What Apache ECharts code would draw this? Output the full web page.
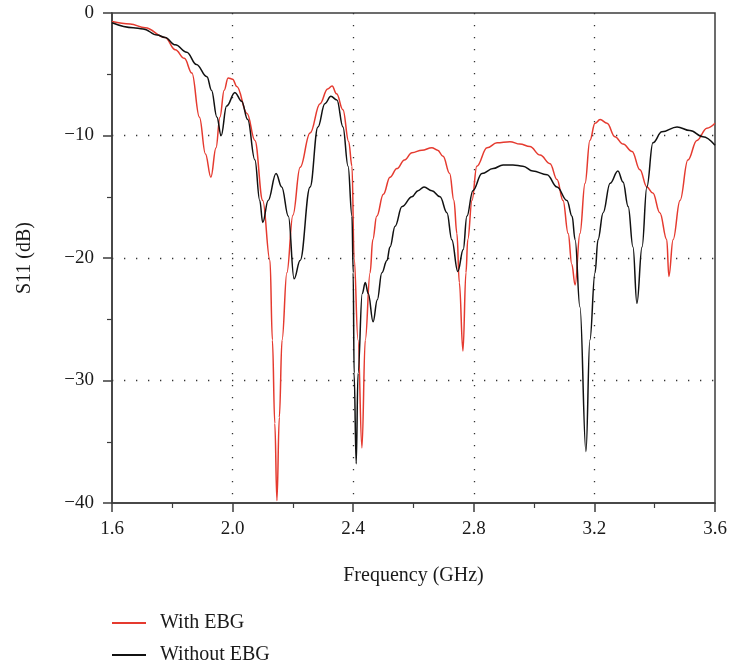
<!DOCTYPE html>
<html>
<head>
<meta charset="utf-8">
<script src="https://cdn.jsdelivr.net/npm/echarts@6/dist/echarts.min.js"></script>
<style>html,body{margin:0;padding:0;background:#fff;}#c{width:730px;height:661px;}</style>
</head>
<body>
<div id="c"></div>
<script>
// Frequency (GHz) and S11 (dB)
const withFreq = [1.600,1.660,1.710,1.776,1.810,1.840,1.865,1.890,1.910,1.928,1.945,1.958,1.972,1.985,2.000,2.014,2.048,2.074,2.100,2.124,2.132,2.140,2.147,2.155,2.164,2.180,2.200,2.224,2.257,2.290,2.315,2.330,2.345,2.366,2.385,2.396,2.403,2.416,2.429,2.440,2.456,2.465,2.478,2.500,2.522,2.545,2.570,2.595,2.628,2.661,2.680,2.698,2.720,2.734,2.744,2.752,2.764,2.774,2.780,2.794,2.810,2.844,2.877,2.920,2.953,2.986,3.020,3.053,3.076,3.096,3.113,3.125,3.136,3.152,3.169,3.185,3.202,3.219,3.242,3.268,3.295,3.325,3.351,3.374,3.394,3.417,3.440,3.447,3.461,3.484,3.510,3.540,3.573,3.600];
const withS11 = [-0.7,-0.9,-1.2,-2.0,-3.0,-3.7,-4.9,-8.5,-11.5,-13.4,-11.0,-8.5,-6.3,-5.3,-5.4,-6.0,-8.2,-10.4,-15.3,-20.2,-26.7,-33.5,-39.8,-33.0,-26.7,-21.2,-16.5,-12.6,-9.8,-7.4,-6.2,-5.96,-6.6,-7.9,-10.5,-12.5,-20.0,-26.7,-35.5,-26.7,-21.2,-18.5,-16.6,-14.8,-13.4,-12.7,-12.0,-11.4,-11.2,-11.0,-11.2,-11.7,-13.1,-15.3,-18.0,-22.0,-27.6,-21.2,-18.5,-15.3,-12.5,-11.0,-10.6,-10.5,-10.7,-10.9,-11.6,-12.3,-13.6,-15.3,-18.0,-20.5,-22.2,-18.0,-13.9,-10.4,-9.0,-8.7,-9.0,-10.1,-10.7,-11.3,-12.8,-14.2,-14.7,-16.3,-18.5,-21.5,-18.5,-15.3,-12.0,-10.4,-9.4,-9.0];

const withoutFreq = [1.600,1.670,1.703,1.750,1.776,1.810,1.848,1.880,1.915,1.930,1.948,1.962,1.980,2.008,2.030,2.050,2.074,2.090,2.100,2.118,2.144,2.163,2.185,2.204,2.224,2.257,2.283,2.306,2.326,2.346,2.366,2.383,2.396,2.400,2.403,2.410,2.416,2.430,2.440,2.450,2.466,2.480,2.495,2.512,2.522,2.539,2.562,2.595,2.615,2.635,2.661,2.688,2.711,2.727,2.747,2.765,2.777,2.797,2.827,2.864,2.897,2.930,2.963,2.996,3.043,3.076,3.109,3.126,3.136,3.152,3.172,3.185,3.202,3.212,3.229,3.252,3.278,3.295,3.312,3.328,3.341,3.358,3.374,3.394,3.424,3.474,3.517,3.560,3.600];
const withoutS11 = [-0.8,-1.2,-1.3,-1.8,-2.0,-2.6,-3.2,-4.2,-5.2,-6.3,-8.5,-10.0,-7.6,-6.5,-7.2,-8.7,-12.0,-15.3,-17.1,-15.3,-13.1,-14.2,-16.6,-21.7,-20.2,-14.2,-9.3,-7.4,-6.8,-7.1,-9.3,-12.5,-16.6,-21.2,-29.4,-36.8,-29.4,-22.9,-22.0,-22.9,-25.2,-23.4,-21.2,-20.2,-19.1,-17.4,-15.8,-15.0,-14.5,-14.2,-14.5,-15.0,-16.3,-18.5,-21.1,-19.3,-16.6,-14.5,-13.1,-12.7,-12.4,-12.4,-12.5,-12.9,-13.2,-14.2,-15.3,-16.6,-18.5,-24.0,-35.8,-26.7,-21.2,-18.5,-16.3,-13.9,-12.9,-13.8,-15.8,-19.1,-23.7,-19.1,-14.2,-10.6,-9.7,-9.3,-9.6,-10.1,-10.8];

const seriesNames = ['With EBG', 'Without EBG'];
const xTicks = [1.6, 2.0, 2.4, 2.8, 3.2, 3.6];
const yTicks = [0, -10, -20, -30, -40];

const zip = (a, b) => a.map((v, i) => [v, b[i]]);
const FONT = '"Liberation Serif", "DejaVu Serif", serif';
const AX = '#3c3c3c';
const RED = '#e53a2f';
const BLK = '#111';

const dotted = {show: true, showMinLine: false, showMaxLine: false, lineStyle: {color: '#333', width: 1.3, type: [1.3, 10.7]}};

const chart = echarts.init(document.getElementById('c'), null, {renderer: 'canvas'});
chart.setOption({
  animation: false,
  backgroundColor: '#fff',
  grid: {left: 112, top: 13, right: 15, bottom: 158, show: true, borderColor: AX, borderWidth: 1.5, backgroundColor: 'transparent'},
  legend: {
    orient: 'vertical', left: 112, top: 612, height: 80, padding: 0,
    itemWidth: 34, itemHeight: 2, itemGap: 10,
    data: [
      {name: seriesNames[0], icon: 'rect', itemStyle: {color: RED}},
      {name: seriesNames[1], icon: 'rect', itemStyle: {color: BLK}}
    ],
    textStyle: {fontFamily: FONT, fontSize: 20, color: '#1a1a1a', lineHeight: 22, padding: [0, 0, 0, 9]}
  },
  xAxis: {
    type: 'value', min: xTicks[0], max: xTicks[xTicks.length - 1], interval: 0.4,
    name: 'Frequency (GHz)', nameLocation: 'middle', nameGap: 63,
    nameTextStyle: {fontFamily: FONT, fontSize: 20, color: '#1a1a1a'},
    axisLine: {show: true, onZero: false, lineStyle: {color: AX, width: 1.5}},
    axisTick: {show: true, length: 9, lineStyle: {color: AX, width: 1.5}},
    minorTick: {show: true, splitNumber: 2, length: 5, lineStyle: {color: AX, width: 1.2}},
    axisLabel: {fontFamily: FONT, fontSize: 19, color: '#1a1a1a', margin: 17,
      formatter: v => xTicks.find(t => Math.abs(t - v) < 1e-6).toFixed(1)},
    splitLine: dotted
  },
  yAxis: {
    type: 'value', min: yTicks[yTicks.length - 1], max: yTicks[0], interval: 10,
    name: 'S11 (dB)', nameLocation: 'middle', nameGap: 77, nameRotate: 90,
    nameTextStyle: {fontFamily: FONT, fontSize: 20, color: '#1a1a1a'},
    axisLine: {show: true, onZero: false, lineStyle: {color: AX, width: 1.5}},
    axisTick: {show: true, length: 9, lineStyle: {color: AX, width: 1.5}},
    minorTick: {show: true, splitNumber: 2, length: 5, lineStyle: {color: AX, width: 1.2}},
    axisLabel: {fontFamily: FONT, fontSize: 19, color: '#1a1a1a', margin: 18,
      formatter: v => v === 0 ? '0' : '\u2212' + Math.abs(v)},
    splitLine: dotted
  },
  series: [
    {name: seriesNames[0], type: 'line', data: zip(withFreq, withS11), symbol: 'none', smooth: 0.4, smoothMonotone: 'x',
      lineStyle: {color: RED, width: 1.5}, itemStyle: {color: RED}},
    {name: seriesNames[1], type: 'line', data: zip(withoutFreq, withoutS11), symbol: 'none', smooth: 0.4, smoothMonotone: 'x',
      lineStyle: {color: BLK, width: 1.5}, itemStyle: {color: BLK}}
  ]
});
</script>
</body>
</html>
